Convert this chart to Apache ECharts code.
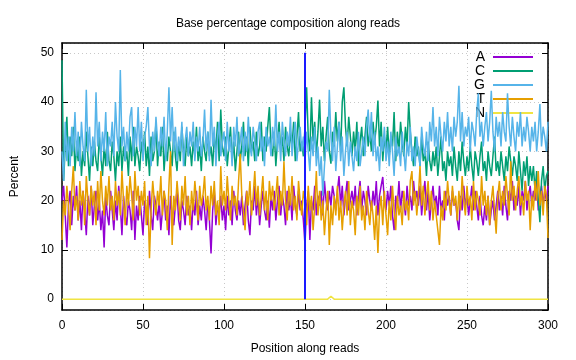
<!DOCTYPE html>
<html><head><meta charset="utf-8">
<script src="https://cdn.jsdelivr.net/npm/echarts@6/dist/echarts.min.js"></script>
<style>html,body{margin:0;padding:0;background:#fff}#c{width:576px;height:360px}</style>
</head><body><div id="c"></div>
<script>
const seriesNames = ['A', 'C', 'G', 'T', 'N'];
const xTicks = [0, 50, 100, 150, 200, 250, 300];
const yTicks = [0, 10, 20, 30, 40, 50];
const markerPos = 150;

const aValues = [
20,23,17,10.5,19,22,15,21,18,23, 16,20,14,22,18,13,21,17,23,15,
19,22,16,20,14,18,10.5,21,17,15, 22,18,14,20,16,23,19,13,21,17,
15,20,18,14,22,12,19,16,21,17, 13,20,18,15,22,17,14,21,19,16,
20,14,18,22,16,19,13,21,17,15, 19,22,16,14,20,18,15,21,17,19,
14,20,17,22,15,19,16,21,18,14, 20,16,9.3,18,22,15,19,17,21,16,
19,14,21,17,20,15,22,18,16,20, 17,21,15,19,22,16,13,20,18,23,
17,21,15,19,22,18,16,20,14.5,21, 18,22,16,20,23,17,21,19,15,22,
18,21,16,23,19,17,22,18,20,16, 11,19,22,12,20,18,23,17,21,19,
22,17,24,20,18,22,19,23,21,18, 22,25,19,23,17,21,24,18,20,22,
19,23,17,21,24,18,22,20,17,23, 20,18,22,19,24,17,21,23,24.8,20,
18,22,19,23,17,14,21,19,24,18, 22,20,17,23,19,21,18,24,20,22,
19,23,17,21,24,18,22,16,20,23, 19,21,17,23,18,20,16,22,19,21,
17,22,19,20,16,14,21,18,23,19, 21,17,20,23,18,22,19,16,21,17,
15,19,16,21,15,18,20,16,19,22, 18,21,17,23,19,16,22,20,24,18,
21,19,23,17,22,20,24,18,21,23, 19,22,20,24,18,21,23,19,22,20,
23];

const cValues = [
48.5,24,31,37,27,33,29,35,26,31, 28,33,25,30,27,34,29,24,31,27,
32,28,26,33,29,25,31,27,34,28, 26,32,29,24,30,27,33,26,31,28,
30,25,33,28,35,27,31,29,26,32, 29,34,27,31,25,33,28,30,36,27,
32,29,35,26,31,28,33,30,27,34, 29,26,32,28,35,30,27,33,29,31,
27,32,29,35,28,31,26,33,30,28, 34,29,31,27,33,30,36,28,38.5,31,
29,33,27,31,35,28,32,26,30,34, 28,31,36,29,33,27,35,30,32,28,
34,29,31,36,28,33,30,35,39,31, 29,34,27,32,36,30,33,28,35,31,
29,34,31,36,28,33,38,30,32,29, 35,43,33,30,41,32,36,29,34,40.5,
31,35,28,33,37,30,27.5,34,31,38, 32,36,30,40,43,35,31,37,33,29,
34,30,36,27,32,35,29,33,37,31, 34,30,36,32,35,40.3,31,36,28,33,
30,35,29,33,31,38,28,34,30,36, 32,29,35,31,40,34,30,27,33,29,
31,27,33,28,30,25,32,28,26,30, 27,31,25,29,33,26,28,24,30,27,
29,25,31,27,24,30,26,32,28,25, 29,26,31,27,24,30,28,25,29,32,
26,28,24,30,27,25,29,33,26,28, 25,30,27,24,29,26,31,28,25,29,
27,24,30,26,22,28,25,29,23,27, 24,27,22,26,20,15.6,24,27,22,25,
26];

const gValues = [
30,24,36,28,33,27,35,30,38,29, 34,27,36,31,28,42.5,30,35,27,33,
29,42,31,36,28,34,30,38,27,33, 31,36,29,40,33,30,46.5,31,35,28,
34,30,37,39,29,35,31,39,30,36, 28,33,35,39,31,27,34,30,37,32,
29,35,31,37,28,34,43,32,39,30, 35,28,33,30,36,27,32,35,29,34,
31,36,28,33,30,35,29,32,38.5,30, 34,28,40.5,31,35,27,33,36,29,32,
34,28,36,30,33,27,35,31,37,29, 32,35,28,34,30,37,31,29,35,32,
28,34,36,30,33,27,35,31,33,29, 35,31,39.5,30,34,28,36,32,29,34,
31,37,29,33,36,28,32,35,30,33, 28,34,30,26,33,29,35,27,31,25,
29,21,27,32,30,42.5,33,28,35,26, 31,36,28,33,25,30,34,27,32,29,
26,31,28,34,27,30,33,29,35,38.5, 32,38,29,34,28,31,26,33,30,35,
28,32,27,34,30,25,33,29,31,27, 34,30,26,32,29,35,28,31,27,33,
30,27,35,31,29,34,28,36,32,39, 31,35,29,37,33,30,36,32,38,31,
35,30,37,33,36,43.3,32,38,31,35, 33,37,30,36,34,31,38,41.8,33,36,
31,35,38,32,36,42.3,34,30,37,33, 36,31,38,34,32,41.8,35,31,37,33,
30,36,33,38,31,35,32,37,34,30, 35,32,36,30,34,39.6,31,35,33,30,
36];

const tValues = [
12,20,17,23,19,14,22,27,18,21, 16,24,19,22,15,25,20,17,23,19,
22,15,24,18,26,20,17,23,19,25, 18,21,16,24,19,22,17,26,20,15,
23,19,25,21,16,26,20,23,17,22, 19,24,15,21,8.3,18,24,20,17,22,
19,25,17,22,20,14,23,30,11,21, 18,24,20,16,23,19,25,17,21,15,
22,18,24,20,16,23,19,21,25,18, 21,16,23,19,24,17,20,15,27,19,
22,18,25,20,16,23,19,21,17,24, 29.5,21,18,14,22,19,24,17,21,26,
19,23,17,21,25,18,22,16,24,20, 23,18,21,25,17,22,19,28,20,16,
23,19,25,18,21,16,24,20,17,22, 20,15,23,18,21,14,19,26,17,22,
16,20,13,18,22,11,19,15,21,17, 23,16,20,14,19,22,17,24,15,20,
18,13,21,17,23,16,19,14,22,18, 15,20,17,12,19,9.4,18,21,15,22,
17,13,20,16,23,18,14,21,17,19, 15,22,18,20,16,24,26,19,22,17,
21,27,19,23,17,21,24,18,22,16, 20,17,14,11,19,16,22,18,24,20,
17,23,19,21,16,22,18,25,20,17, 23,19,21,16,24,18,22,20,17,25,
19,22,17,21,15,20,23,18,13.3,21, 24,18,22,19,25,21,17,28,20,23,
18,22,25,19,21,17,24,20,22,14, 21,18,24,20,26,19,22,17,23,21,
12.4];

const nValues = [
0,0,0,0,0,0,0,0,0,0, 0,0,0,0,0,0,0,0,0,0, 0,0,0,0,0,0,0,0,0,0,
0,0,0,0,0,0,0,0,0,0, 0,0,0,0,0,0,0,0,0,0, 0,0,0,0,0,0,0,0,0,0,
0,0,0,0,0,0,0,0,0,0, 0,0,0,0,0,0,0,0,0,0, 0,0,0,0,0,0,0,0,0,0,
0,0,0,0,0,0,0,0,0,0, 0,0,0,0,0,0,0,0,0,0, 0,0,0,0,0,0,0,0,0,0,
0,0,0,0,0,0,0,0,0,0, 0,0,0,0,0,0,0,0,0,0, 0,0,0,0,0,0,0,0,0,0,
0,0,0,0,0,0,0,0,0,0, 0,0,0,0,0,0.2,0.6,0.2,0,0, 0,0,0,0,0,0,0,0,0,0,
0,0,0,0,0,0,0,0,0,0, 0,0,0,0,0,0,0,0,0,0, 0,0,0,0,0,0,0,0,0,0,
0,0,0,0,0,0,0,0,0,0, 0,0,0,0,0,0,0,0,0,0, 0,0,0,0,0,0,0,0,0,0,
0,0,0,0,0,0,0,0,0,0, 0,0,0,0,0,0,0,0,0,0, 0,0,0,0,0,0,0,0,0,0,
0,0,0,0,0,0,0,0,0,0, 0,0,0,0,0,0,0,0,0,0, 0,0,0,0,0,0,0,0,0,0,
0];

const allValues = [aValues, cValues, gValues, tValues, nValues];
const colors = ['#9400d3', '#009e73', '#56b4e9', '#e69f00', '#f0e442'];
const FONT = '"Liberation Sans", Arial, sans-serif';

const chart = echarts.init(document.getElementById('c'), null, {renderer: 'canvas'});
const toPairs = arr => arr.map((v, i) => [i, v]);

const series = seriesNames.map((name, k) => ({
  name, type: 'line', data: toPairs(allValues[k]), showSymbol: false, symbol: 'none',
  lineStyle: {width: 1.5, color: colors[k]}, itemStyle: {color: colors[k]},
  xAxisIndex: 0, yAxisIndex: 0, z: 2 + k
}));
series.push({
  name: 'marker', type: 'line', data: [[markerPos, 0], [markerPos, 50]],
  showSymbol: false, symbol: 'none', lineStyle: {width: 2, color: '#1a1aff'}, z: 10,
  xAxisIndex: 0, yAxisIndex: 0
});

const gridLine = {show: true, lineStyle: {color: '#c8c8c8', type: [1, 3], width: 1}};
const tickStyle = {show: true, inside: true, length: 6, lineStyle: {color: '#000', width: 1}};

chart.setOption({
  animation: false,
  backgroundColor: '#fff',
  title: {text: 'Base percentage composition along reads', left: 'center', top: 13,
    textStyle: {fontFamily: FONT, fontSize: 12, fontWeight: 'normal', color: '#000'}},
  legend: {
    data: seriesNames, orient: 'vertical', right: 38, top: 45, align: 'right',
    itemWidth: 40, itemHeight: 2, itemGap: 0, icon: 'rect',
    textStyle: {fontFamily: FONT, fontSize: 14, color: '#000', lineHeight: 13, padding: [0, 3, 0, 0]},
    selectedMode: false
  },
  grid: {left: 62, right: 28, top: 43, bottom: 46, containLabel: false},
  xAxis: [
    {type: 'value', min: 0, max: 300, interval: 50, position: 'bottom',
     name: 'Position along reads', nameLocation: 'middle', nameGap: 33,
     nameTextStyle: {fontFamily: FONT, fontSize: 12, color: '#000'},
     axisLine: {show: true, onZero: false, lineStyle: {color: '#000', width: 1.5}},
     axisTick: tickStyle, splitLine: gridLine,
     axisLabel: {fontFamily: FONT, fontSize: 12, color: '#000', margin: 10}},
    {type: 'value', min: 0, max: 300, interval: 50, position: 'top',
     axisLine: {show: true, onZero: false, lineStyle: {color: '#000', width: 1.5}},
     axisTick: tickStyle, splitLine: {show: false}, axisLabel: {show: false}}
  ],
  yAxis: [
    {type: 'value', min: -2.2, max: 52, position: 'left',
     name: 'Percent', nameLocation: 'middle', nameGap: 41, nameRotate: 90,
     nameTextStyle: {fontFamily: FONT, fontSize: 12, color: '#000'},
     axisLine: {show: true, onZero: false, lineStyle: {color: '#000', width: 1.5}},
     axisTick: tickStyle, splitLine: gridLine,
     axisLabel: {fontFamily: FONT, fontSize: 12, color: '#000', margin: 8,
       showMinLabel: false, showMaxLabel: false}},
    {type: 'value', min: -2.2, max: 52, position: 'right',
     axisLine: {show: true, onZero: false, lineStyle: {color: '#000', width: 1.5}},
     axisTick: tickStyle, splitLine: {show: false}, axisLabel: {show: false}}
  ],
  series
});
</script>
</body></html>
